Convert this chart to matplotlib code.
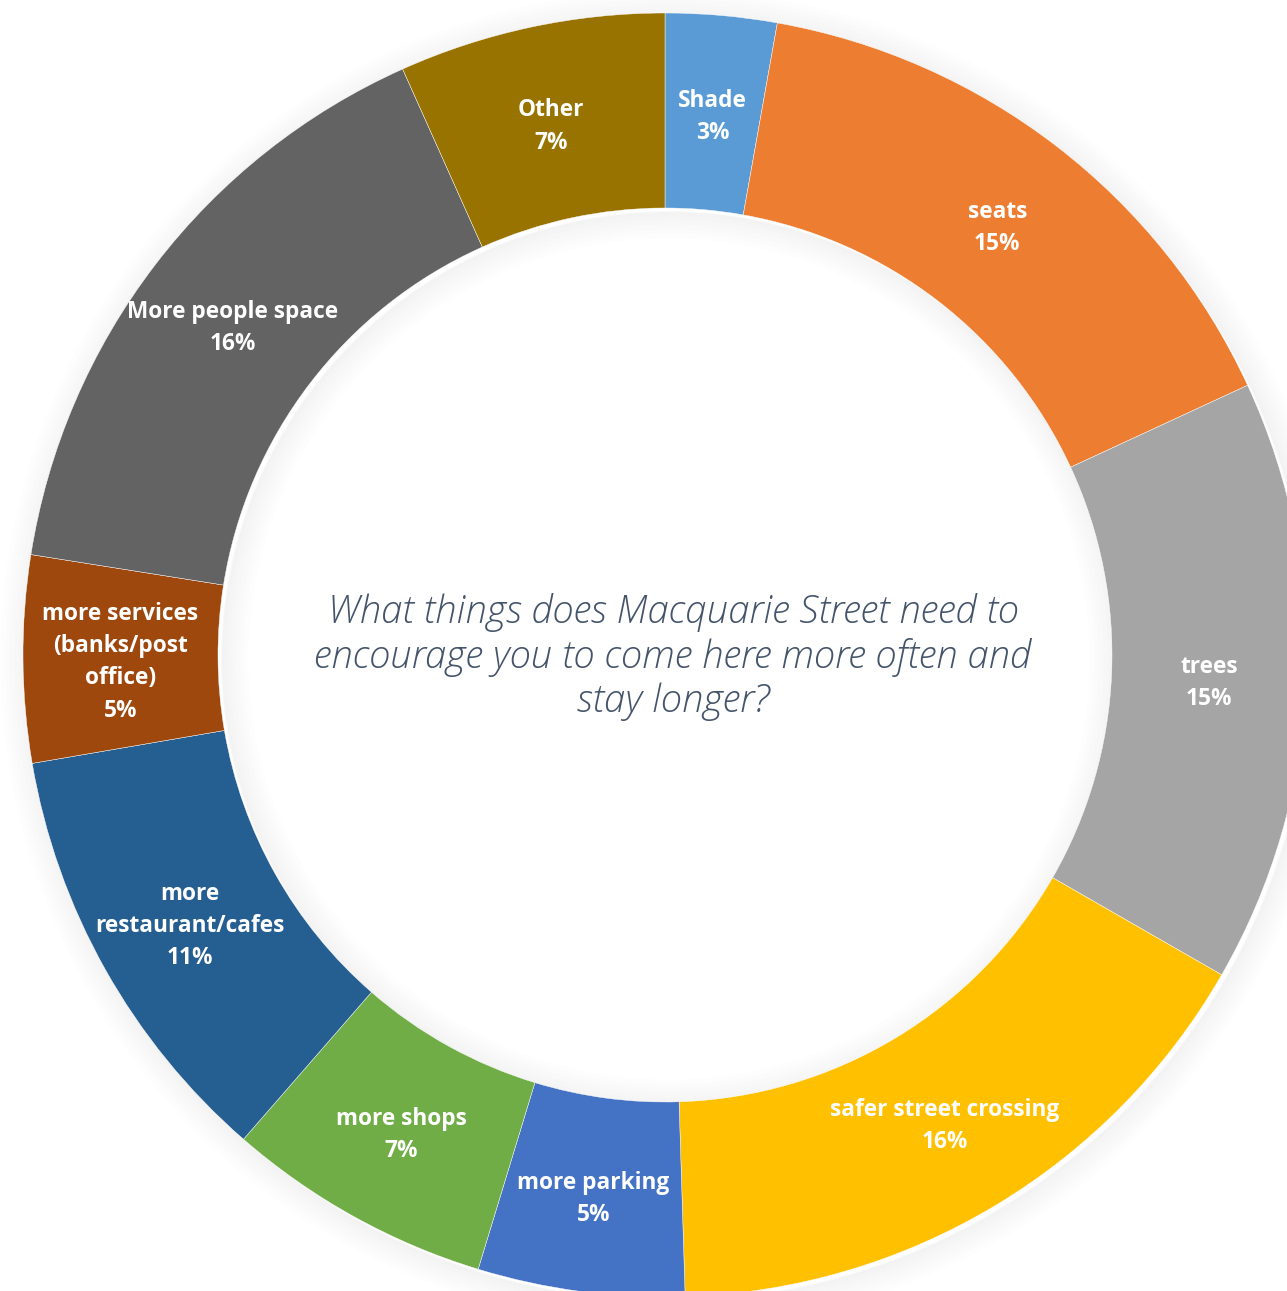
import numpy as np
import matplotlib
matplotlib.use("Agg")
import matplotlib.pyplot as plt
from matplotlib.patches import Wedge

# data (share of responses, %)
categories = ["Shade", "seats", "trees", "safer street crossing", "more parking",
              "more shops", "more\nrestaurant/cafes", "more services\n(banks/post\noffice)",
              "More people space", "Other"]
shares = [2.8, 15.3, 15.2, 16.2, 5.2, 6.7, 10.9, 5.2, 15.8, 6.7]
colors = ["#5B9BD5", "#ED7D31", "#A5A5A5", "#FFC000", "#4472C4",
          "#70AD47", "#255E91", "#9E480E", "#636363", "#997300"]
title = "What things does Macquarie Street need to\nencourage you to come here more often and\nstay longer?"

W, H = 1287, 1291
cx, cy = 665, H - 655
R_out, R_in = 642, 447

fig = plt.figure(figsize=(W / 100, H / 100), dpi=100)
ax = fig.add_axes([0, 0, 1, 1])

# soft shadow outside the ring and inside the hole
for k in range(1, 30):
    a = 0.025 * (1 - k / 30)
    ax.add_patch(Wedge((cx + 4, cy - 4), R_out + k, 0, 360, width=2,
                       facecolor="black", alpha=a, lw=0, zorder=0))
    ax.add_patch(Wedge((cx + 4, cy - 4), R_in - k + 2, 0, 360, width=2,
                       facecolor="black", alpha=a, lw=0, zorder=0))

wedges, _ = ax.pie(shares, colors=colors, startangle=90, counterclock=False,
                   center=(cx, cy), radius=R_out, frame=True,
                   wedgeprops=dict(width=R_out - R_in, edgecolor="white", linewidth=0.3))
ax.set_xlim(0, W)
ax.set_ylim(0, H)
ax.set_aspect("equal")
ax.axis("off")

r_mid = (R_out + R_in) / 2
for w, name, s in zip(wedges, categories, shares):
    ang = np.deg2rad((w.theta1 + w.theta2) / 2)
    x = cx + r_mid * np.cos(ang)
    y = cy + r_mid * np.sin(ang) - 4
    ax.text(x, y, f"{name}\n{round(s)}%", ha="center", va="center",
            color="white", fontsize=16.3, fontweight="bold",
            family=["Open Sans", "DejaVu Sans"], linespacing=1.45)

ax.text(cx + 8, cy - 2, title, ha="center", va="center", color="#44546A",
        fontsize=27.5, fontstyle="italic", fontweight="light",
        family=["Open Sans", "DejaVu Sans"], linespacing=1.2)

fig.savefig("out.png", dpi=100, facecolor="white")
